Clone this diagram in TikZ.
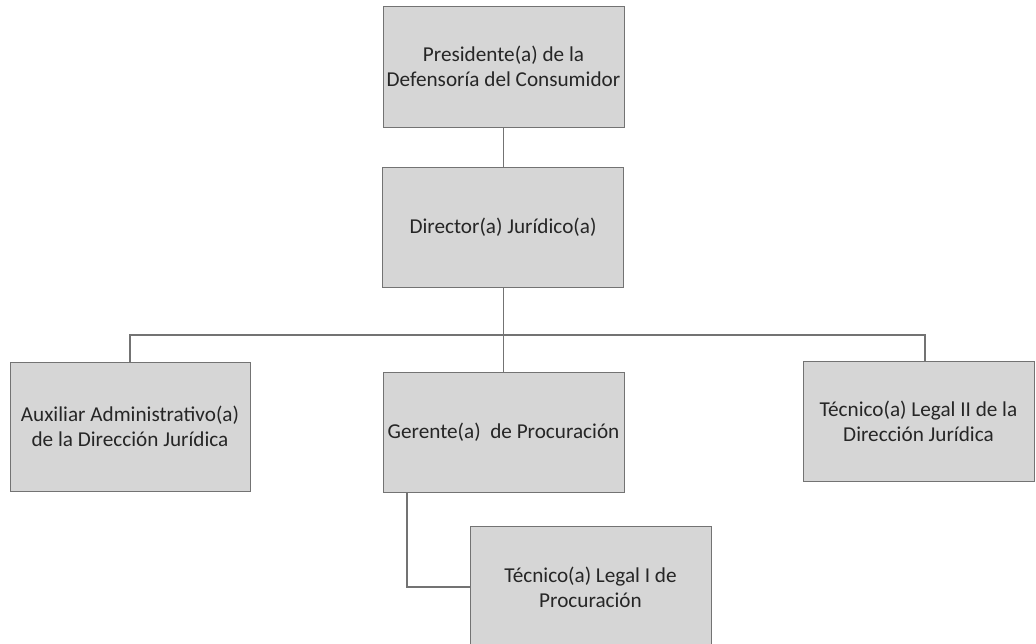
\documentclass[tikz,border=0pt]{standalone}
\usepackage{fontspec}
\setmainfont{Carlito}
\begin{document}
\begin{tikzpicture}[x=1pt,y=-1pt,
  orgbox/.style={draw=black!55, line width=0.9pt, fill=black!16, align=center, inner sep=2pt,
    font=\fontsize{21.2}{25}\selectfont, text=black!85},
  conn/.style={draw=black!55, line width=1.1pt}]
\useasboundingbox (0,0) rectangle (1036,644);
\node[orgbox, minimum width=241pt, minimum height=121pt] (pres) at (503.5,66.5) {Presidente(a) de la\\Defensoría del Consumidor};
\node[orgbox, minimum width=241pt, minimum height=120pt] (dir) at (503,227) {Director(a) Jurídico(a)};
\node[orgbox, minimum width=240pt, minimum height=129pt] (aux) at (130,426.5) {Auxiliar Administrativo(a)\\de la Dirección Jurídica};
\node[orgbox, minimum width=241pt, minimum height=120pt] (ger) at (503.5,432) {Gerente(a)\ \ de Procuración};
\node[orgbox, minimum width=231pt, minimum height=120pt] (tec2) at (918.5,421) {Técnico(a) Legal II de la\\Dirección Jurídica};
\node[orgbox, minimum width=241pt, minimum height=122pt] (tec1) at (590.5,587) {Técnico(a) Legal I de\\Procuración};
\coordinate (bus) at (503.5,335);
\draw[conn] (pres.south) -- (pres.south |- dir.north);
\draw[conn] (bus |- dir.south) -- (bus);
\draw[conn] (aux.north) |- (bus);
\draw[conn] (bus) -| ([xshift=6.5pt]tec2.north);
\draw[conn] (bus) -- (bus |- ger.north);
\draw[conn] ([xshift=-96.5pt]ger.south) |- (tec1.west);
\end{tikzpicture}
\end{document}
